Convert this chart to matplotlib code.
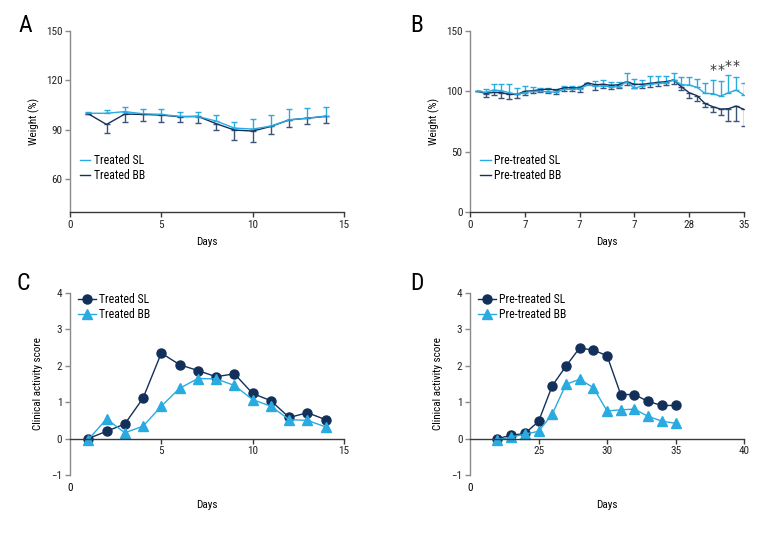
import numpy as np
import matplotlib.pyplot as plt
from matplotlib.lines import Line2D

plt.rcParams['font.family'] = ['Roboto Condensed', 'Liberation Sans Narrow',
                               'Liberation Sans', 'DejaVu Sans']
plt.rcParams['font.size'] = 8

light = '#29abe2'
dark = '#13305a'
grey = '#8a8a8a'

# painel A: peso, tratados
days_a = [1, 2, 3, 4, 5, 6, 7, 8, 9, 10, 11, 12, 13, 14]
sl_a = [100, 100, 101, 99.7, 99.3, 98.1, 98, 95.3, 91, 90.4, 92.2, 96, 97, 98.3]
sl_a_err = [0.5, 2, 3, 3, 3, 2.5, 2.5, 3.7, 3.9, 6, 7, 6.5, 6.1, 5.5]
bb_a = [99.7, 93.2, 99.5, 99.3, 98.9, 97.9, 98.1, 93.7, 89.8, 89.2, 92, 96, 97, 98.1]
bb_a_err = [0, 5, 4.6, 4, 4, 3.5, 3.8, 4, 6.3, 6.9, 4.6, 4.4, 3.8, 3.8]

# painel B: peso, pre-tratados
days_b = list(range(1, 36))
sl_b = [100, 99.2, 101.1, 100.5, 98.9, 97.5, 98.9, 100, 100, 99.7, 99.2, 101.7,
        101.7, 102, 105.3, 104.4, 104.4, 103.8, 103.8, 108, 102.5, 104.6, 105.8,
        106.6, 107, 109.4, 105.5, 105.2, 103.3, 98.3, 98.1, 96, 98.8, 101, 97]
sl_b_err = [0, 2.7, 4.7, 5.8, 7, 5.5, 5.5, 3.3, 3, 2.8, 2.8, 2.8, 2.8, 2.5, 1.7,
            4.5, 5, 4, 4, 7, 8, 5, 6.5, 6, 6, 5.5, 6.5, 6.4, 6.7, 8.3, 11.3,
            12.8, 14.4, 11, 10.2]
bb_b = [100, 98.2, 99.2, 98.9, 97.5, 97.5, 100, 100.5, 101.4, 101.9, 101.1, 103,
        103, 102.8, 107, 105.5, 105.8, 105, 105.5, 108, 105.8, 105.8, 106.6,
        107.4, 108, 109.4, 103.8, 98.8, 96.4, 90, 87.3, 85.3, 85.6, 87.8, 85]
bb_b_err = [0, 2.5, 2.2, 4.1, 4.1, 3.3, 3, 2.2, 2.2, 3.6, 3, 3, 3, 3, 1, 4.4, 3,
            3, 3, 3, 3, 3, 3, 3, 3, 3, 3, 4, 4, 3, 4.5, 5, 10, 12, 13.5]
b_tick_pos = [0, 7, 14, 21, 28, 35]
b_tick_lab = ['0', '7', '7', '7', '28', '35']
star_days = [31, 32, 33, 34]
star_y = [117.5, 117.5, 121, 121]

# painel C: escore clinico, tratados
days_c = [1, 2, 3, 4, 5, 6, 7, 8, 9, 10, 11, 12, 13, 14]
sl_c = [0, 0.2, 0.4, 1.11, 2.35, 2.03, 1.87, 1.7, 1.78, 1.24, 1.04, 0.58, 0.71, 0.52]
bb_c = [-0.03, 0.54, 0.16, 0.34, 0.89, 1.38, 1.65, 1.64, 1.46, 1.07, 0.89, 0.52, 0.5, 0.32]

# painel D: escore clinico, pre-tratados
days_d = [22, 23, 24, 25, 26, 27, 28, 29, 30, 31, 32, 33, 34, 35]
sl_d = [0, 0.09, 0.14, 0.47, 1.45, 1.99, 2.49, 2.43, 2.28, 1.21, 1.21, 1.02, 0.91, 0.91]
bb_d = [-0.03, 0.04, 0.12, 0.2, 0.67, 1.49, 1.63, 1.4, 0.76, 0.79, 0.81, 0.61, 0.48, 0.42]

fig = plt.figure(figsize=(7.8, 5.4), dpi=100)
axA = fig.add_axes([0.0897, 0.6074, 0.3513, 0.3352])
axB = fig.add_axes([0.6026, 0.6074, 0.3513, 0.3352])
axC = fig.add_axes([0.0897, 0.1204, 0.3513, 0.3370])
axD = fig.add_axes([0.6026, 0.1204, 0.3513, 0.3370])


def style(ax):
    for s in ['top', 'right']:
        ax.spines[s].set_visible(False)
    ax.spines['left'].set_color(grey)
    ax.spines['bottom'].set_color('#3a3a3a')
    ax.spines['left'].set_linewidth(1.0)
    ax.spines['bottom'].set_linewidth(1.0)
    ax.tick_params(axis='y', colors=grey, labelcolor='#222222', length=3.5, width=1.0, pad=2)
    ax.tick_params(axis='x', colors='#3a3a3a', labelcolor='#222222', length=3.5, width=1.0, pad=2)


def weight_panel(ax, days, sl, sl_err, bb, bb_err, labels):
    z1 = np.zeros(len(days))
    ax.errorbar(days, bb, yerr=[bb_err, z1], color=dark, ecolor='#3b5478',
                lw=1.0, elinewidth=1.0, capsize=2, capthick=1.0)
    ax.errorbar(days, sl, yerr=[z1, sl_err], color=light, ecolor=light,
                lw=1.0, elinewidth=1.0, capsize=2, capthick=1.0)
    h = [Line2D([], [], color=light, lw=1.0), Line2D([], [], color=dark, lw=1.0)]
    ax.legend(h, labels, loc='upper left', bbox_to_anchor=(0.036, 0.32),
              frameon=False, handlelength=0.9, handletextpad=0.3,
              labelspacing=0.15, borderpad=0, borderaxespad=0, fontsize=8.5)
    ax.set_xlabel('Days', labelpad=5)
    ax.set_ylabel('Weight (%)', labelpad=4)
    style(ax)


weight_panel(axA, days_a, sl_a, sl_a_err, bb_a, bb_a_err, ['Treated SL', 'Treated BB'])
axA.set_xlim(0, 15)
axA.set_ylim(40, 150)
axA.set_xticks([0, 5, 10, 15])
axA.set_yticks([60, 90, 120, 150])

weight_panel(axB, days_b, sl_b, sl_b_err, bb_b, bb_b_err, ['Pre-treated SL', 'Pre-treated BB'])
axB.set_xlim(0, 35)
axB.set_ylim(0, 150)
axB.set_xticks(b_tick_pos)
axB.set_xticklabels(b_tick_lab)
axB.set_yticks([0, 50, 100, 150])
for d, y in zip(star_days, star_y):
    axB.text(d, y, '*', ha='center', va='center', fontsize=10, color='#333333',
             family='DejaVu Sans')


def score_panel(ax, days, sl, bb, labels, x0, xticks):
    ax.plot(days, sl, '-o', color=dark, ms=6.5, lw=1.0, label=labels[0])
    ax.plot(days, bb, '-^', color=light, ms=6.5, lw=1.0, label=labels[1])
    ax.legend(loc='upper left', bbox_to_anchor=(0.03, 1.0), frameon=False,
              handlelength=1.5, handletextpad=0.3, labelspacing=0.15,
              borderpad=0, borderaxespad=0, fontsize=8.5)
    ax.set_ylim(-1, 4)
    ax.set_yticks([-1, 0, 1, 2, 3, 4])
    ax.set_yticklabels(['\u22121', '0', '1', '2', '3', '4'])
    ax.set_xticks(xticks)
    ax.spines['bottom'].set_position(('data', 0))
    ax.text(x0, -1.36, '0', ha='center', va='center', clip_on=False)
    ax.text(0.5, -0.165, 'Days', transform=ax.transAxes, ha='center', va='center')
    ax.set_ylabel('Clinical activity score', labelpad=6)
    style(ax)


score_panel(axC, days_c, sl_c, bb_c, ['Treated SL', 'Treated BB'], 0, [5, 10, 15])
axC.set_xlim(0, 15)
score_panel(axD, days_d, sl_d, bb_d, ['Pre-treated SL', 'Pre-treated BB'], 20, [25, 30, 35, 40])
axD.set_xlim(20, 40)

for lab, x, y in [('A', 25, 25), ('B', 417, 25), ('C', 23, 283), ('D', 417, 283)]:
    fig.text(x / 780, 1 - y / 540, lab, fontsize=17, ha='center', va='center')

fig.savefig('out.png', dpi=100)
